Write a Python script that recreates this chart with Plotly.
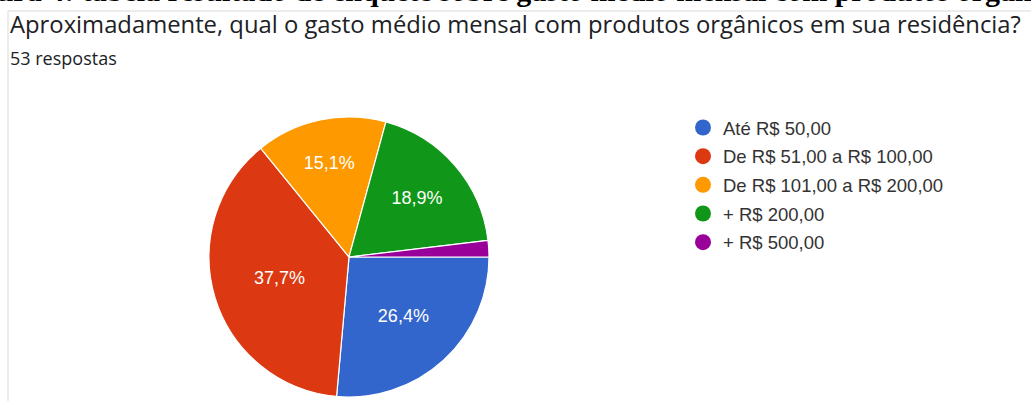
import plotly.graph_objects as go

# Survey answers (53 responses)
categories = [
    "Até R$ 50,00",
    "De R$ 51,00 a R$ 100,00",
    "De R$ 101,00 a R$ 200,00",
    "+ R$ 200,00",
    "+ R$ 500,00",
]
responses = [14, 20, 8, 10, 1]
colors = ["#3366cc", "#dc3912", "#ff9900", "#109618", "#990099"]
slice_labels = ["%{percent:.1%}", "%{percent:.1%}", "%{percent:.1%}", "%{percent:.1%}", ""]

W, H = 1031, 401


def px(x):
    return x / W


def py(y):
    return 1 - y / H


fig = go.Figure()

fig.add_trace(go.Pie(
    labels=categories,
    values=responses,
    sort=False,
    direction="clockwise",
    rotation=90,
    marker=dict(colors=colors, line=dict(color="white", width=1.2)),
    texttemplate=slice_labels,
    textposition="inside",
    insidetextorientation="horizontal",
    textfont=dict(family="Liberation Sans, Arial", size=18, color="white"),
    domain=dict(x=[px(209), px(489)], y=[py(397), py(117)]),
    showlegend=False,
    hoverinfo="label+value+percent",
))

# Legend entries with round markers
for name, col in zip(categories, colors):
    fig.add_trace(go.Scatter(
        x=[None], y=[None], mode="markers", name=name,
        legendgroup=name,
        marker=dict(symbol="circle", size=16, color=col),
    ))

fig.update_layout(
    width=W, height=H,
    margin=dict(l=0, r=0, t=0, b=0),
    paper_bgcolor="white",
    plot_bgcolor="white",
    separators=",.",
    xaxis=dict(visible=False),
    yaxis=dict(visible=False),
    legend=dict(
        x=px(683), y=py(109), xanchor="left", yanchor="top",
        font=dict(family="Liberation Sans, Arial", size=18.5, color="#333333"),
        tracegroupgap=1.6,
        itemclick=False, itemdoubleclick=False,
    ),
    shapes=[
        dict(type="line", xref="paper", yref="paper",
             x0=px(8), x1=1, y0=py(11), y1=py(11),
             line=dict(color="#e6e6e6", width=1.5)),
        dict(type="line", xref="paper", yref="paper",
             x0=px(8), x1=px(8), y0=py(11), y1=0,
             line=dict(color="#e6e6e6", width=1.5)),
    ],
    annotations=[
        dict(text="<b>Figura 4: tabela resultado de enquete sobre gasto médio mensal com produtos orgânicos</b>",
             xref="paper", yref="paper", x=px(-47), y=py(9.5),
             xanchor="left", yanchor="bottom", showarrow=False,
             font=dict(family="Liberation Serif, Times New Roman", size=30, color="black")),
        dict(text="Aproximadamente, qual o gasto médio mensal com produtos orgânicos em sua residência?",
             xref="paper", yref="paper", x=px(8), y=py(6),
             xanchor="left", yanchor="top", showarrow=False,
             font=dict(family="Open Sans", size=23.8, color="#202124")),
        dict(text="53 respostas",
             xref="paper", yref="paper", x=px(8), y=py(44),
             xanchor="left", yanchor="top", showarrow=False,
             font=dict(family="Open Sans", size=18, color="#202124")),
    ],
)

fig.write_html("out.html")
